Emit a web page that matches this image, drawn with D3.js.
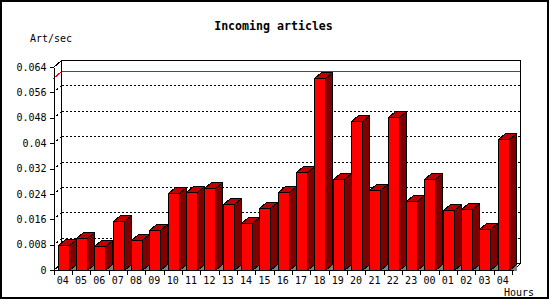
<!DOCTYPE html>
<html>
<head>
<meta charset="utf-8">
<script src="https://cdn.jsdelivr.net/npm/d3@7"></script>
<style>
  body { margin: 0; background: #fff; }
  svg { display: block; }
  text { font-family: "DejaVu Sans Mono", monospace; fill: #000; }
</style>
</head>
<body>
<script>
(function(d3) {
  "use strict";

  /***** Data *****/
  var hours = ["04", "05", "06", "07", "08", "09", "10", "11", "12", "13", "14", "15", "16",
               "17", "18", "19", "20", "21", "22", "23", "00", "01", "02", "03", "04"];
  var rates = [0.0078, 0.0100, 0.0075, 0.0154, 0.0095, 0.0126, 0.0242, 0.0245, 0.0258, 0.0207,
               0.0147, 0.0195, 0.0245, 0.0308, 0.0604, 0.0286, 0.0471, 0.0251, 0.0481, 0.0217,
               0.0286, 0.0188, 0.0191, 0.0128, 0.0412];
  var yTicks = [0, 0.008, 0.016, 0.024, 0.032, 0.04, 0.048, 0.056, 0.064];
  var yTickLabels = ["0", "0.008", "0.016", "0.024", "0.032", "0.04", "0.048", "0.056", "0.064"];

  /***** Configuration *****/
  var width = 550, height = 300;
  var left = 53.5, right = 512, base = 270, top = 67;
  var wall = { x: 7, y: 7 };   // depth of the back panel
  var cube = { x: 7, y: 6 };   // depth of each bar
  var barOffset = 4, barWidth = 11;

  /***** Scales *****/
  var x = d3.scaleBand().domain(d3.range(hours.length)).range([left, right]);
  var y = d3.scaleLinear().domain([0, 0.064]).range([base, top]);

  function px(v) { return Math.round(v) + 0.5; }
  function pts(list) { return list.map(function(p) { return p.join(","); }).join(" "); }

  var svg = d3.select("body").append("svg")
    .attr("width", width)
    .attr("height", height)
    .attr("shape-rendering", "crispEdges");

  // Outer frame
  svg.append("rect")
    .attr("x", 1).attr("y", 1)
    .attr("width", 547).attr("height", 297)
    .attr("fill", "#fff").attr("stroke", "#000").attr("stroke-width", 2);

  // Titles
  svg.append("text")
    .attr("x", 273.5).attr("y", 30)
    .attr("text-anchor", "middle")
    .attr("font-weight", "bold")
    .attr("font-size", "11.6px")
    .text("Incoming articles");

  svg.append("text")
    .attr("x", 30).attr("y", 41.5)
    .attr("font-size", "10px")
    .text("Art/sec");

  svg.append("text")
    .attr("x", 504).attr("y", 296)
    .attr("font-size", "10px")
    .text("Hours");

  /***** Back panel *****/
  var bx0 = px(left + wall.x), bx1 = px(right + 1 + wall.x);
  var by0 = px(top - wall.y), by1 = px(base - wall.y);
  var panel = svg.append("g").attr("fill", "none");

  // Dotted grid lines with their small diagonals to the front axis
  yTicks.slice(1, -1).forEach(function(t) {
    var yf = px(y(t)), yb = px(y(t) - wall.y);
    panel.append("line")
      .attr("x1", bx0).attr("x2", bx1).attr("y1", yb).attr("y2", yb)
      .style("stroke", "#000")
      .attr("stroke-dasharray", "2,2");
    panel.append("line")
      .attr("x1", left).attr("y1", yf).attr("x2", bx0).attr("y2", yb)
      .style("stroke", "#000")
      .attr("stroke-dasharray", "2,2");
  });

  // Maximum line
  var maxRate = d3.max(rates);
  var ymf = px(y(maxRate)), ymb = px(y(maxRate) - wall.y);
  panel.append("line")
    .attr("x1", bx0).attr("x2", bx1).attr("y1", ymb).attr("y2", ymb)
    .style("stroke", "#ff0000");
  panel.append("line")
    .attr("x1", left).attr("y1", ymf).attr("x2", bx0).attr("y2", ymb)
    .style("stroke", "#ff0000");

  panel.append("path")
    .style("stroke", "#000")
    .attr("d", "M" + bx0 + "," + by1 + "V" + by0 + "H" + bx1 + "V" + by1 + "H" + bx0);
  panel.append("line")
    .style("stroke", "#000")
    .attr("x1", left).attr("y1", px(top)).attr("x2", bx0).attr("y2", by0);
  panel.append("line")
    .style("stroke", "#000")
    .attr("x1", px(right + 1)).attr("y1", px(base)).attr("x2", bx1).attr("y2", by1);
  panel.append("line")
    .style("stroke", "#000")
    .attr("x1", left).attr("y1", px(base)).attr("x2", bx0).attr("y2", by1);

  /***** 3D bars *****/
  var bars = svg.append("g").selectAll("g")
    .data(rates)
    .join("g");

  bars.each(function(v, i) {
    var g = d3.select(this);
    var xl = px(x(i) + barOffset), xr = xl + barWidth;
    var yt = px(y(v)), yb = px(y(0));

    g.append("polygon")
      .attr("points", pts([[xr, yb], [xr + cube.x, yb - cube.y], [xr + cube.x, yb]]))
      .attr("fill", "#808080");
    g.append("polygon")
      .attr("points", pts([[xr, yt], [xr + cube.x, yt - cube.y], [xr + cube.x, yb - cube.y], [xr, yb]]))
      .attr("fill", "#800000").attr("stroke", "#000");
    g.append("polygon")
      .attr("points", pts([[xl, yt], [xl + cube.x, yt - cube.y], [xr + cube.x, yt - cube.y], [xr, yt]]))
      .attr("fill", "#c00000").attr("stroke", "#000");
    g.append("rect")
      .attr("x", xl).attr("y", yt)
      .attr("width", barWidth).attr("height", yb - yt)
      .attr("fill", "#f00").attr("stroke", "#000");
  });

  /***** Axes *****/
  var yAxis = d3.axisLeft(y)
    .tickValues(yTicks)
    .tickFormat(function(d, i) { return yTickLabels[i]; })
    .tickSize(4)
    .tickSizeOuter(0)
    .tickPadding(3);

  var gy = svg.append("g")
    .attr("transform", "translate(" + left + ",0)")
    .call(yAxis);
  gy.selectAll("text").attr("font-size", "10px").attr("font-family", "DejaVu Sans Mono");

  var xAxis = d3.axisBottom(x)
    .tickFormat(function(i) { return hours[i]; })
    .tickSize(0)
    .tickSizeOuter(0)
    .tickPadding(6);

  var gx = svg.append("g")
    .attr("transform", "translate(0," + px(base) + ")")
    .call(xAxis);
  gx.select(".domain").attr("d", "M" + left + ",0H" + px(right + 1));
  gx.selectAll("text").attr("font-size", "10px").attr("font-family", "DejaVu Sans Mono");

  // Tick marks sit on band boundaries
  gx.selectAll(".bound")
    .data(d3.range(hours.length + 1))
    .join("line")
    .attr("class", "bound")
    .attr("x1", function(i) { return px(left + i * x.step()); })
    .attr("x2", function(i) { return px(left + i * x.step()); })
    .attr("y1", 0).attr("y2", 4)
    .attr("stroke", "#000");
})(d3);
</script>
</body>
</html>
